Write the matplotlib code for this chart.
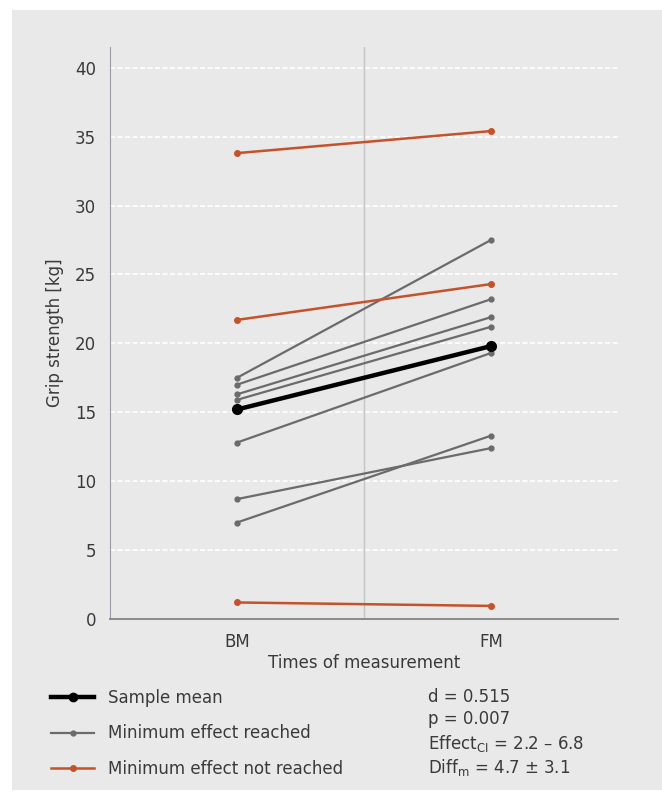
import numpy as np
import matplotlib
matplotlib.use('Agg')
import matplotlib.pyplot as plt
from matplotlib.lines import Line2D
from matplotlib.patches import Rectangle

plt.rcParams['font.family'] = ['DejaVu Sans']

# datos
momentos = ['BM', 'FM']
alcanzado_bm = [17.5, 17.0, 16.3, 15.9, 12.8, 8.7, 7.0]
alcanzado_fm = [27.5, 23.2, 21.9, 21.2, 19.3, 12.4, 13.3]
no_alcanzado_bm = [33.8, 21.7, 1.2]
no_alcanzado_fm = [35.4, 24.3, 0.95]
media = [15.2, 19.8]
estadisticos = ['d = 0.515', 'p = 0.007',
                'Effect$_{\\mathregular{CI}}$ = 2.2 \u2013 6.8',
                'Diff$_{\\mathregular{m}}$ = 4.7 \u00b1 3.1']

gris = '#6b6b6b'
rojo = '#c4522a'
texto = '#3a3a3a'
fondo = '#e9e9e9'

fig = plt.figure(figsize=(6.62, 7.97), dpi=100, facecolor='white')
fig.patches.append(Rectangle((12 / 662, 7 / 797), 650 / 662, 780 / 797,
                             transform=fig.transFigure, facecolor=fondo,
                             edgecolor='none', zorder=-10))

ax = fig.add_axes([110 / 662, 1 - 619 / 797, 508 / 662, 572 / 797])
ax.set_facecolor('none')

x = np.arange(len(momentos))
for a, b in zip(alcanzado_bm, alcanzado_fm):
    ax.plot(x, [a, b], color=gris, lw=1.6, marker='o', ms=3.5, zorder=3)
for a, b in zip(no_alcanzado_bm, no_alcanzado_fm):
    ax.plot(x, [a, b], color=rojo, lw=1.8, marker='o', ms=4, zorder=3)
ax.plot(x, media, color='black', lw=3.2, marker='o', ms=7, zorder=4)

ax.axvline(0.5, color='#c4c4c4', lw=1, zorder=1)
ax.set_xlim(-0.5, 1.5)
ax.set_ylim(0, 41.5)
ax.set_yticks(range(0, 41, 5))
ax.set_xticks(x)
ax.set_xticklabels(momentos)
for v in range(5, 41, 5):
    ax.axhline(v, color='white', lw=1.2, ls=(0, (3, 1.5)), zorder=0)

for s in ['top', 'right']:
    ax.spines[s].set_visible(False)
ax.spines['left'].set_color('#9a9aa8')
ax.spines['bottom'].set_color('#8a8a8a')
ax.spines['bottom'].set_linewidth(1.4)
ax.tick_params(length=0, labelsize=12, colors=texto, pad=10)
ax.set_ylabel('Grip strength [kg]', fontsize=12, color=texto, labelpad=8)
ax.set_xlabel('Times of measurement', fontsize=12, color=texto, labelpad=2)

manijas = [Line2D([], [], color='black', lw=3.2, marker='o', ms=6),
           Line2D([], [], color=gris, lw=1.6, marker='o', ms=3.5),
           Line2D([], [], color=rojo, lw=1.8, marker='o', ms=4)]
fig.legend(manijas, ['Sample mean', 'Minimum effect reached',
                     'Minimum effect not reached'],
           loc='upper left', bbox_to_anchor=(36 / 662, 1 - 674 / 797),
           frameon=False, fontsize=12, labelcolor=texto, handlelength=2.6,
           labelspacing=1.05)

ys = [697, 719, 743, 767]
for t, yy in zip(estadisticos, ys):
    fig.text(428 / 662, 1 - yy / 797, t, fontsize=12, color=texto, va='center')

plt.savefig('out.png', dpi=100, facecolor='white')
